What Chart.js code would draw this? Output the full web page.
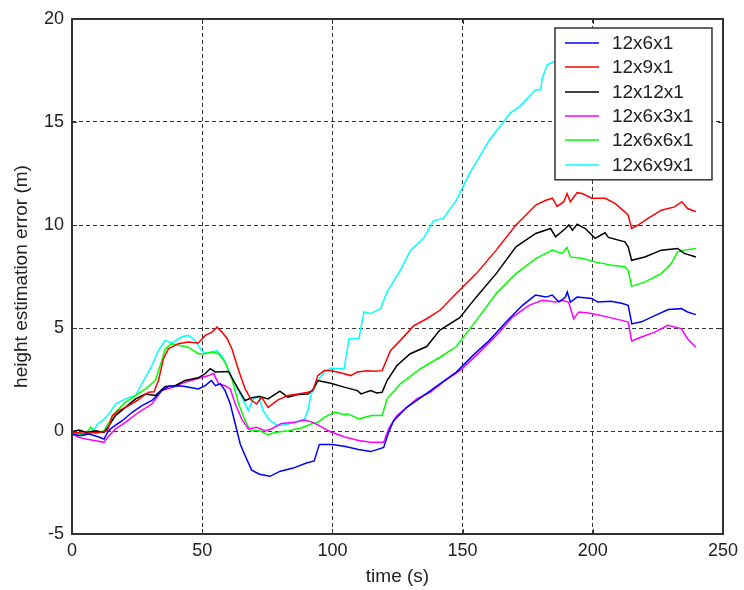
<!DOCTYPE html>
<html>
<head>
<meta charset="utf-8">
<script src="https://cdn.jsdelivr.net/npm/chart.js@4"></script>
<style>
  html, body { margin: 0; padding: 0; background: #fff; }
  canvas { display: block; }
</style>
</head>
<body>
<canvas id="chart" width="744" height="590"></canvas>
<script>
// time (s) and height error (m) per configuration
const tA = [0, 3, 6.5, 10, 12.3, 13.6, 15.5, 19.3, 23.1, 26.9, 30.7, 34.5, 37, 40.8, 43.4, 48.5, 51.2, 53.5, 55.1, 57, 58.8, 60.8, 62.7, 64.6, 66.5, 69, 72, 76, 80, 85, 90, 93, 95, 100, 105, 110, 114.7, 119.7, 121.6, 123.5, 128.6, 135, 141.3, 147.6, 154, 160.3, 166.7, 173, 178, 182, 184.4, 187, 189.5, 190.2, 191.4, 194, 199.6, 202, 207, 211, 213.6, 215, 218.7, 223.8, 229, 234, 236.4, 239.6];
const hA = [-0.15, -0.23, -0.15, -0.28, -0.39, -0.07, 0.18, 0.5, 0.91, 1.23, 1.48, 1.96, 2.16, 2.2, 2.16, 2.04, 2.2, 2.45, 2.2, 2.29, 1.96, 1.31, 0.34, -0.63, -1.2, -1.9, -2.1, -2.2, -1.95, -1.8, -1.55, -1.45, -0.65, -0.65, -0.75, -0.9, -1.0, -0.8, -0.06, 0.5, 1.15, 1.72, 2.29, 2.86, 3.67, 4.4, 5.29, 6.1, 6.6, 6.5, 6.6, 6.26, 6.5, 6.75, 6.26, 6.5, 6.43, 6.26, 6.3, 6.2, 6.1, 5.2, 5.3, 5.6, 5.9, 5.94, 5.78, 5.65];

const tB = [0, 5.3, 10.4, 13.6, 15.5, 18, 21.8, 25, 27.5, 29.4, 31.5, 33.2, 35.1, 37, 40.8, 44.6, 48.5, 51.2, 53.8, 55.7, 57.6, 59.6, 61.4, 64, 66.5, 69, 70.9, 72.8, 75.3, 79.1, 82.9, 86.8, 90.6, 92.5, 94.4, 96.9, 99.4, 104.5, 107, 109.6, 113.4, 116, 119.1, 122.3, 126.1, 131.2, 136.2, 141.3, 147.6, 155.3, 162.9, 170.5, 178.1, 182, 184.5, 186.3, 188.9, 190.1, 191.4, 194, 195.9, 199.6, 204.7, 208.5, 212.3, 213.6, 214.9, 217.4, 221.2, 226.3, 231.4, 234.2, 236.4, 239.6];
const hB = [-0.07, -0.11, -0.07, 0.01, 0.75, 0.99, 1.23, 1.48, 1.72, 1.88, 1.9, 2.45, 3.5, 3.99, 4.24, 4.32, 4.27, 4.64, 4.8, 5.04, 4.8, 4.48, 3.99, 2.94, 2.04, 1.48, 1.31, 1.64, 1.15, 1.51, 1.72, 1.8, 1.88, 1.96, 2.69, 2.94, 2.94, 2.78, 2.69, 2.86, 2.93, 2.9, 2.93, 3.9, 4.4, 5.1, 5.45, 5.86, 6.67, 7.64, 8.78, 10.0, 10.97, 11.2, 11.3, 10.9, 11.13, 11.53, 11.13, 11.57, 11.53, 11.3, 11.3, 11.05, 10.64, 10.48, 9.83, 10.0, 10.32, 10.72, 10.88, 11.13, 10.8, 10.64];

const tC = [0, 2.8, 5.5, 9.1, 12.3, 14.2, 16.7, 20.5, 24.4, 28.2, 32, 35.8, 39.6, 43.4, 48.5, 51, 53.1, 55.1, 60.1, 62, 64.6, 66.5, 69, 72.2, 75.3, 79.8, 82.9, 86.8, 90.6, 92.5, 94.4, 97.5, 99.4, 104.5, 109.6, 111, 114.7, 117, 119.1, 121, 124.8, 129.9, 136.2, 141.3, 148.9, 155.3, 162.9, 170.5, 178.1, 183.8, 185.7, 189.5, 190.8, 192.2, 194, 197.1, 200.9, 204.7, 206, 212.3, 213.6, 214.9, 220, 226.3, 232.6, 235.1, 239.6];
const hC = [-0.03, 0.05, -0.07, 0.01, -0.07, 0.26, 0.75, 1.15, 1.56, 1.8, 1.72, 2.16, 2.2, 2.45, 2.58, 2.77, 3.02, 2.86, 2.89, 2.45, 1.88, 1.48, 1.61, 1.67, 1.56, 1.93, 1.64, 1.77, 1.8, 2.0, 2.45, 2.37, 2.32, 2.13, 1.96, 1.8, 1.96, 1.85, 1.88, 2.45, 3.18, 3.75, 4.1, 4.9, 5.5, 6.51, 7.64, 8.94, 9.59, 9.83, 9.43, 9.83, 10.0, 9.75, 10.04, 9.83, 9.35, 9.62, 9.4, 9.18, 8.94, 8.29, 8.45, 8.78, 8.86, 8.62, 8.45];

const tD = [0, 2.8, 5.3, 9.1, 12.3, 13.6, 16.7, 20.5, 25.6, 30.7, 34.5, 39.6, 43.4, 48.5, 52.5, 54.4, 56.3, 58.8, 60.8, 62.7, 65.2, 67.7, 70.9, 74.1, 76.6, 80.4, 85.5, 89.3, 92.5, 95.6, 99.4, 104.5, 109.6, 114.7, 119.7, 121.6, 124.8, 132.4, 137.5, 142.5, 149, 155.3, 163, 169.2, 175.5, 180.6, 185.7, 188.2, 190.7, 192.7, 194.6, 198.4, 203.5, 211.1, 213.6, 214.9, 218.7, 223.8, 228.8, 234, 236.4, 239.6];
const hD = [-0.15, -0.31, -0.39, -0.47, -0.55, -0.31, 0.1, 0.42, 0.91, 1.31, 1.96, 2.16, 2.37, 2.55, 2.69, 2.8, 2.29, 2.2, 2.04, 1.31, 0.58, 0.1, 0.18, 0.01, 0.1, 0.37, 0.42, 0.53, 0.42, 0.21, -0.05, -0.28, -0.45, -0.55, -0.55, 0.1, 0.75, 1.56, 1.88, 2.37, 2.94, 3.67, 4.64, 5.53, 6.1, 6.35, 6.26, 6.35, 6.26, 5.45, 5.78, 5.73, 5.6, 5.37, 5.29, 4.37, 4.56, 4.8, 5.13, 4.97, 4.48, 4.07];

const tE = [0, 2.8, 4.7, 7.2, 9.1, 12.3, 14.2, 16.7, 20.5, 24.4, 28.2, 32, 34.5, 35.8, 38.3, 41.5, 44.6, 48.5, 51, 53.8, 56.3, 58.8, 61.4, 64, 66.5, 68.4, 72.2, 75.3, 77.9, 83, 88, 91.8, 94.4, 96.9, 99.4, 101, 104.5, 106, 110.2, 115, 119.1, 121, 126.1, 133.7, 141.3, 147.6, 155.3, 162.9, 170.5, 178.1, 184.5, 188.2, 190.1, 191.4, 196.1, 200.9, 207.3, 212.3, 213.6, 214.9, 220, 226.3, 230.1, 232.6, 235.1, 239.6];
const hE = [-0.07, -0.15, -0.23, 0.18, -0.11, 0.01, 0.42, 0.91, 1.39, 1.72, 2.04, 2.45, 3.42, 3.99, 4.24, 4.15, 4.07, 3.75, 3.75, 3.83, 3.75, 3.34, 2.53, 1.31, 0.5, 0.05, 0.01, -0.18, -0.07, 0.01, 0.15, 0.34, 0.42, 0.66, 0.83, 0.91, 0.8, 0.83, 0.58, 0.75, 0.75, 1.56, 2.29, 3.02, 3.58, 4.1, 5.37, 6.67, 7.64, 8.37, 8.78, 8.62, 8.91, 8.45, 8.37, 8.21, 8.05, 7.97, 7.8, 7.02, 7.24, 7.64, 8.13, 8.7, 8.78, 8.86];

const tF = [0, 2.8, 5.3, 7.9, 9.8, 11.7, 14.2, 16.7, 20.5, 24.4, 28.2, 30.7, 33.2, 35.8, 38.3, 42.1, 44.6, 47.2, 49.7, 51.2, 53.8, 55.7, 58.2, 61.4, 65.2, 67.7, 69.6, 71.5, 73.4, 76, 79.1, 83, 86.8, 89.3, 90.6, 91.8, 93.1, 94.4, 96.9, 99.4, 104.5, 106.4, 110.2, 112.1, 114.7, 118.5, 121, 126.1, 129.9, 135, 138.8, 142.6, 147.6, 152.7, 160.3, 168.3, 172, 178.1, 180, 180.6, 182.5, 185.3];
const hF = [-0.07, -0.1, -0.15, -0.07, 0.34, 0.5, 0.83, 1.31, 1.56, 1.72, 2.61, 3.18, 3.91, 4.4, 4.27, 4.56, 4.64, 4.4, 3.91, 3.78, 3.83, 3.91, 3.5, 2.61, 1.64, 0.99, 1.56, 1.72, 0.99, 0.5, 0.26, 0.34, 0.47, 0.58, 0.99, 1.8, 2.04, 2.45, 2.86, 3.05, 3.02, 4.48, 4.48, 5.78, 5.7, 5.94, 6.75, 7.8, 8.75, 9.35, 10.2, 10.32, 11.21, 12.51, 14.13, 15.43, 15.76, 16.57, 16.57, 17.13, 17.78, 17.95];

const seriesNames = ["12x6x1", "12x9x1", "12x12x1", "12x6x3x1", "12x6x6x1", "12x6x9x1"];
const seriesColors = ["#0000ff", "#ff0000", "#000000", "#ff00ff", "#00ff00", "#00ffff"];
const seriesT = [tA, tB, tC, tD, tE, tF];
const seriesH = [hA, hB, hC, hD, hE, hF];

const xTicks = [0, 50, 100, 150, 200, 250];
const yTicks = [-5, 0, 5, 10, 15, 20];

const FONT = "'Liberation Sans', Arial, sans-serif";

// frame around the axes plus short inward tick marks on all four sides
const axesBox = {
  id: "axesBox",
  afterDatasetsDraw(chart) {
    const { ctx, chartArea: a, scales: { x, y } } = chart;
    ctx.save();
    ctx.strokeStyle = "#333";
    ctx.lineWidth = 1;
    ctx.beginPath();
    x.ticks.forEach(t => {
      const px = Math.round(x.getPixelForValue(t.value)) + 0.5;
      ctx.moveTo(px, a.bottom); ctx.lineTo(px, a.bottom - 5);
      ctx.moveTo(px, a.top); ctx.lineTo(px, a.top + 5);
    });
    y.ticks.forEach(t => {
      const py = Math.round(y.getPixelForValue(t.value)) + 0.5;
      ctx.moveTo(a.left, py); ctx.lineTo(a.left + 5, py);
      ctx.moveTo(a.right, py); ctx.lineTo(a.right - 5, py);
    });
    ctx.stroke();
    ctx.lineWidth = 2;
    ctx.strokeRect(a.left, a.top, a.right - a.left, a.bottom - a.top);
    ctx.restore();
  }
};

// boxed legend in the upper right corner, inside the axes
const boxLegend = {
  id: "boxLegend",
  afterDraw(chart) {
    const { ctx, chartArea: a } = chart;
    const w = 157, rowH = 24.3;
    const left = a.right - 11 - w, top = a.top + 9;
    const h = rowH * seriesNames.length + 6;
    ctx.save();
    ctx.fillStyle = "#fff";
    ctx.fillRect(left, top, w, h);
    ctx.strokeStyle = "#333";
    ctx.lineWidth = 1.5;
    ctx.strokeRect(left, top, w, h);
    ctx.font = "19px " + FONT;
    ctx.textBaseline = "middle";
    seriesNames.forEach((name, i) => {
      const cy = Math.round(top + 15 + i * rowH);
      ctx.beginPath();
      ctx.strokeStyle = seriesColors[i];
      ctx.lineWidth = 1.5;
      ctx.moveTo(left + 10, cy);
      ctx.lineTo(left + 44, cy);
      ctx.stroke();
      ctx.fillStyle = "#222";
      ctx.fillText(name, left + 57, cy + 1);
    });
    ctx.restore();
  }
};

const datasets = seriesNames.map((name, i) => ({
  label: name,
  data: seriesT[i].map((t, k) => ({ x: t, y: seriesH[i][k] })),
  borderColor: seriesColors[i],
  borderWidth: 1.5,
  pointRadius: 0,
  tension: 0,
  fill: false
}));

const edgeless = c => (c.tick.value === c.scale.min || c.tick.value === c.scale.max) ? "rgba(0,0,0,0)" : "#333";

new Chart(document.getElementById("chart").getContext("2d"), {
  type: "line",
  data: { datasets },
  options: {
    responsive: false,
    animation: false,
    devicePixelRatio: 1,
    layout: { padding: { top: 19, right: 16, bottom: 0, left: 0 } },
    plugins: { legend: { display: false }, tooltip: { enabled: false } },
    scales: {
      x: {
        type: "linear",
        min: 0,
        max: 250,
        afterBuildTicks: s => { s.ticks = xTicks.map(v => ({ value: v })); },
        afterFit: s => { s.height = 56; },
        grid: { color: edgeless, lineWidth: 1, drawTicks: false },
        border: { display: false, dash: [4, 3] },
        ticks: { color: "#222", padding: 6, font: { family: FONT, size: 18 }, maxRotation: 0 },
        title: { display: true, text: "time (s)", color: "#222", padding: { top: 0, bottom: 2 }, font: { family: FONT, size: 19 } }
      },
      y: {
        type: "linear",
        min: -5,
        max: 20,
        afterBuildTicks: s => { s.ticks = yTicks.map(v => ({ value: v })); },
        afterFit: s => { s.width = 72; },
        grid: { color: edgeless, lineWidth: 1, drawTicks: false },
        border: { display: false, dash: [4, 3] },
        ticks: { color: "#222", padding: 8, font: { family: FONT, size: 18 } },
        title: { display: true, text: "height estimation error (m)", color: "#222", padding: { top: 10, bottom: 0 }, font: { family: FONT, size: 19 } }
      }
    }
  },
  plugins: [axesBox, boxLegend]
});
</script>
</body>
</html>
